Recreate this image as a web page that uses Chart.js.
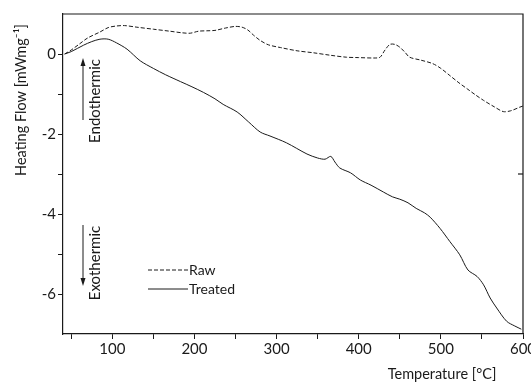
<!DOCTYPE html>
<html lang="en">
<head>
    <meta charset="UTF-8">
    <title>Heating Flow vs Temperature</title>
    <script src="https://cdn.jsdelivr.net/npm/chart.js"></script>
    <style>
        body { margin: 0; background: #fff; }
        canvas { display: block; }
    </style>
</head>
<body>
    <canvas id="dscChart" width="531" height="383"></canvas>

    <script>
        // Raw sample (dashed)
        const rawTemp = [42, 50, 60, 70, 85, 95, 105, 115, 130, 150, 170, 185, 195, 205, 215, 225, 238, 250, 258, 265, 272, 280, 290, 305, 325, 345, 365, 385, 400, 420, 426, 432, 438, 444, 450, 456, 462, 475, 490, 500, 511, 522, 532, 542, 552, 565, 576, 585, 596, 600];
        const rawFlow = [0.0, 0.1, 0.25, 0.4, 0.55, 0.66, 0.7, 0.71, 0.67, 0.62, 0.57, 0.53, 0.52, 0.57, 0.58, 0.59, 0.65, 0.69, 0.67, 0.6, 0.47, 0.34, 0.23, 0.16, 0.08, 0.03, -0.03, -0.08, -0.09, -0.1, -0.08, 0.1, 0.24, 0.24, 0.17, 0.05, -0.08, -0.15, -0.24, -0.36, -0.54, -0.72, -0.87, -1.02, -1.16, -1.32, -1.44, -1.42, -1.33, -1.3];

        // Treated sample (solid)
        const treatedTemp = [42, 50, 65, 75, 85, 95, 105, 118, 134, 150, 165, 183, 197, 211, 225, 235, 252, 266, 280, 292, 312, 337, 350, 359, 366, 371, 377, 390, 402, 415, 430, 441, 450, 460, 470, 480, 487, 499, 511, 523, 533, 544, 552, 560, 568, 580, 590, 598];
        const treatedFlow = [0.0, 0.06, 0.22, 0.31, 0.37, 0.37, 0.28, 0.12, -0.17, -0.36, -0.52, -0.69, -0.82, -0.96, -1.12, -1.26, -1.45, -1.7, -1.95, -2.05, -2.22, -2.5, -2.6, -2.63, -2.56, -2.7, -2.85, -2.97, -3.15, -3.28, -3.45, -3.57, -3.63, -3.72, -3.86, -3.97, -4.08, -4.36, -4.69, -5.02, -5.4, -5.56, -5.77, -6.1, -6.35, -6.68, -6.8, -6.88];

        const xTicks = [50, 100, 150, 200, 250, 300, 350, 400, 450, 500, 550, 600];
        const yTicks = [-6, -5, -4, -3, -2, -1, 0];

        const FONT = "Lato, 'Liberation Sans', sans-serif";
        const INK = '#1a1a1a';

        function toPoints(xs, ys) {
            return xs.map((x, i) => ({ x: x, y: ys[i] }));
        }

        function arrow(ctx, x, y0, y1) {
            // shaft from y0 to y1, head at y1
            const dir = y1 < y0 ? 1 : -1;
            ctx.beginPath();
            ctx.moveTo(x, y0);
            ctx.lineTo(x, y1 + dir * 6);
            ctx.stroke();
            ctx.beginPath();
            ctx.moveTo(x, y1);
            ctx.lineTo(x - 2.5, y1 + dir * 8);
            ctx.lineTo(x + 2.5, y1 + dir * 8);
            ctx.closePath();
            ctx.fill();
        }

        function vText(ctx, text, x, y, size) {
            ctx.save();
            ctx.translate(x, y);
            ctx.rotate(-Math.PI / 2);
            ctx.font = size + 'px ' + FONT;
            ctx.textAlign = 'center';
            ctx.textBaseline = 'middle';
            ctx.fillText(text, 0, 0);
            ctx.restore();
        }

        // frame, titles, arrows and the inner legend
        const extras = {
            id: 'extras',
            afterDraw(chart) {
                const ctx = chart.ctx;
                const a = chart.chartArea;
                const ys = chart.scales.y;
                ctx.save();
                ctx.strokeStyle = INK;
                ctx.fillStyle = INK;
                ctx.lineWidth = 1.2;

                ctx.beginPath();
                ctx.moveTo(a.left, a.top);
                ctx.lineTo(a.right, a.top);
                ctx.lineTo(a.right, a.bottom);
                ctx.stroke();
                // inner tick on the right axis
                ctx.beginPath();
                ctx.moveTo(a.right, ys.getPixelForValue(-3));
                ctx.lineTo(a.right - 5, ys.getPixelForValue(-3));
                ctx.stroke();

                ctx.lineWidth = 1;
                arrow(ctx, 83, 120, 58);
                arrow(ctx, 83, 225, 286);
                vText(ctx, 'Endothermic', 95, 101, 15);
                vText(ctx, 'Exothermic', 95, 263, 15);

                vText(ctx, 'Heating Flow [mWmg\u207B\u00B9]', 21, 100, 14.5);

                ctx.font = '14.5px ' + FONT;
                ctx.textAlign = 'center';
                ctx.textBaseline = 'middle';
                ctx.fillText('Temperature [\u00B0C]', 442, 374);

                // legend
                ctx.textAlign = 'left';
                ctx.font = '14px ' + FONT;
                const rows = [270, 289];
                chart.data.datasets.forEach((ds, i) => {
                    ctx.beginPath();
                    ctx.setLineDash(ds.borderDash || []);
                    ctx.lineWidth = 1;
                    ctx.moveTo(148, rows[i]);
                    ctx.lineTo(188, rows[i]);
                    ctx.stroke();
                    ctx.setLineDash([]);
                    ctx.fillText(ds.label, 189, rows[i]);
                });
                ctx.restore();
            }
        };

        new Chart(document.getElementById('dscChart'), {
            type: 'line',
            data: {
                datasets: [
                    {
                        label: 'Raw',
                        data: toPoints(rawTemp, rawFlow),
                        borderColor: INK,
                        borderWidth: 1,
                        borderDash: [4, 2],
                        pointRadius: 0,
                        tension: 0.3,
                        fill: false
                    },
                    {
                        label: 'Treated',
                        data: toPoints(treatedTemp, treatedFlow),
                        borderColor: INK,
                        borderWidth: 1,
                        pointRadius: 0,
                        tension: 0.3,
                        fill: false
                    }
                ]
            },
            options: {
                responsive: false,
                animation: false,
                layout: { padding: { top: 14, right: 8, left: 0, bottom: 0 } },
                plugins: {
                    legend: { display: false },
                    tooltip: { enabled: false }
                },
                scales: {
                    x: {
                        type: 'linear',
                        min: 40,
                        max: 600,
                        afterBuildTicks: s => { s.ticks = xTicks.map(v => ({ value: v })); },
                        afterFit: s => { s.height = 49; s.paddingLeft = 0; s.paddingRight = 0; },
                        ticks: {
                            autoSkip: false,
                            maxRotation: 0,
                            padding: 1,
                            color: INK,
                            font: { family: FONT, size: 15 },
                            callback: v => (v % 100 === 0 ? String(v) : '')
                        },
                        grid: { drawOnChartArea: false, tickLength: 5, color: INK },
                        border: { color: INK, width: 1.2 }
                    },
                    y: {
                        min: -7,
                        max: 1,
                        afterBuildTicks: s => { s.ticks = yTicks.map(v => ({ value: v })); },
                        afterFit: s => { s.width = 63; s.paddingTop = 0; s.paddingBottom = 0; },
                        ticks: {
                            autoSkip: false,
                            padding: 2,
                            color: INK,
                            font: { family: FONT, size: 15 },
                            callback: v => (v % 2 === 0 ? String(v) : '')
                        },
                        grid: { drawOnChartArea: false, tickLength: 5, color: INK },
                        border: { color: INK, width: 1.2 }
                    }
                }
            },
            plugins: [extras]
        });
    </script>
</body>
</html>
